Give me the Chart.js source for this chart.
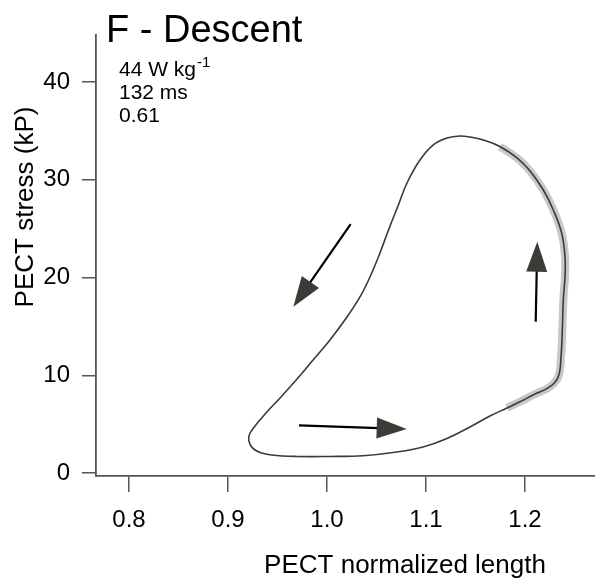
<!DOCTYPE html>
<html><head><meta charset="utf-8">
<script src="https://cdn.jsdelivr.net/npm/chart.js@4.4.0/dist/chart.umd.min.js"></script>
<style>html,body{margin:0;padding:0;background:#fff}#wrap{width:595px;height:580px;position:relative}</style>
</head><body><div id="wrap"><canvas id="c" width="595" height="580"></canvas></div>
<script>
// Work loop (closed curve; left side -> bottom -> right side up -> top leftwards -> left side down)
const loopX = [1.0030,0.9859,0.9697,0.9535,0.9384,0.9273,0.9212,0.9232,0.9313,0.9444,0.9697,1.0030,1.0364,1.0707,1.0970,1.1212,1.1444,1.1646,1.1818,1.1949,1.2081,1.2253,1.2336,1.2364,1.2377,1.2387,1.2404,1.2404,1.2371,1.2286,1.2185,1.2051,1.1919,1.1747,1.1596,1.1444,1.1343,1.1212,1.1071,1.0939,1.0808,1.0713,1.0621,1.0535,1.0434,1.0333,1.0202];
const loopY = [13.61,11.56,9.62,7.78,6.14,4.81,3.79,2.76,2.15,1.84,1.69,1.69,1.77,2.15,2.66,3.53,4.71,5.83,6.65,7.29,7.98,8.83,9.85,11.90,14.63,17.70,20.08,22.13,24.52,26.91,28.95,30.90,32.23,33.40,34.02,34.37,34.48,34.27,33.55,32.02,29.67,27.21,24.86,22.51,20.05,18.01,15.96];
// highlighted (active) portion: indices into the loop
const highlightFrom = 18;
const highlightTo = 33;
// direction arrows (start -> tip)
const arrowStartX = [1.0239, 0.9717, 1.2108];
const arrowStartY = [25.47, 4.88, 15.48];
const arrowTipX = [0.9660, 1.0805, 1.2124];
const arrowTipY = [17.01, 4.50, 23.66];
// axes
const xTicks = [0.8, 0.9, 1.0, 1.1, 1.2];
const yTicks = [0, 10, 20, 30, 40];
const titleText = 'F - Descent';
const infoLines = ['44 W kg', '132 ms', '0.61'];
const xTitle = 'PECT normalized length';
const yTitle = 'PECT stress (kP)';

const FONT = '"Liberation Sans", Arial, Helvetica, sans-serif';
const AXIS = '#555555';

const pts = loopX.map((x, i) => ({x, y: loopY[i]}));
const n = pts.length;
// close the loop smoothly: wrap one point on each side
const loopData = [pts[n - 1], ...pts, pts[0], pts[1]];
const hiData = pts.slice(highlightFrom, highlightTo + 1);

const arrowPlugin = {
  id: 'arrows',
  afterDatasetsDraw(chart) {
    const {ctx, scales: {x, y}} = chart;
    ctx.save();
    for (let i = 0; i < arrowStartX.length; i++) {
      const x0 = x.getPixelForValue(arrowStartX[i]);
      const y0 = y.getPixelForValue(arrowStartY[i]);
      const x1 = x.getPixelForValue(arrowTipX[i]);
      const y1 = y.getPixelForValue(arrowTipY[i]);
      const ang = Math.atan2(y1 - y0, x1 - x0);
      const L = 30, W = 10.5;
      const bx = x1 - L * Math.cos(ang), by = y1 - L * Math.sin(ang);
      ctx.strokeStyle = '#000';
      ctx.lineWidth = 2.2;
      ctx.beginPath(); ctx.moveTo(x0, y0); ctx.lineTo(bx + 2*Math.cos(ang), by + 2*Math.sin(ang)); ctx.stroke();
      ctx.fillStyle = '#3c3c37';
      ctx.beginPath();
      ctx.moveTo(x1, y1);
      ctx.lineTo(bx + W * Math.sin(ang), by - W * Math.cos(ang));
      ctx.lineTo(bx - W * Math.sin(ang), by + W * Math.cos(ang));
      ctx.closePath(); ctx.fill();
    }
    ctx.restore();
  }
};

const textPlugin = {
  id: 'texts',
  afterDraw(chart) {
    const ctx = chart.ctx;
    ctx.save();
    ctx.fillStyle = '#000';
    ctx.textAlign = 'left';
    ctx.textBaseline = 'alphabetic';
    ctx.font = '38px ' + FONT;
    ctx.fillText(titleText, 106, 42);
    ctx.font = '21px ' + FONT;
    const base = [76, 99, 122];
    infoLines.forEach((t, i) => ctx.fillText(t, 119, base[i]));
    const w = ctx.measureText(infoLines[0]).width;
    ctx.font = '15px ' + FONT;
    ctx.fillText('-1', 119 + w + 1, 67);
    ctx.font = '26px ' + FONT;
    ctx.textAlign = 'center';
    ctx.fillText(xTitle, 405, 573);
    ctx.translate(33, 207);
    ctx.rotate(-Math.PI / 2);
    ctx.fillText(yTitle, 0, 0);
    ctx.restore();
  }
};

new Chart(document.getElementById('c'), {
  type: 'scatter',
  data: {
    datasets: [
      {data: loopData, showLine: true, borderColor: '#3a3a3a', borderWidth: 1.6, pointRadius: 0, tension: 0.4, fill: false, order: 1},
      {data: hiData, showLine: true, borderColor: '#c8c8c8', borderWidth: 8, pointRadius: 0, tension: 0.4, fill: false, order: 2, borderCapStyle: 'butt'}
    ]
  },
  options: {
    responsive: false,
    animation: false,
    devicePixelRatio: 1,
    layout: {padding: {top: 35, right: 0, left: 0, bottom: 0}},
    plugins: {legend: {display: false}, tooltip: {enabled: false}, title: {display: false}},
    scales: {
      x: {
        type: 'linear', min: 0.76667, max: 1.2707,
        afterBuildTicks: s => { s.ticks = xTicks.map(v => ({value: v})); },
        afterFit: s => { s.height = 104; },
        grid: {display: true, drawOnChartArea: false, drawTicks: true, tickLength: 16, color: AXIS, lineWidth: 1.5},
        border: {display: true, color: AXIS, width: 1.8},
        ticks: {color: '#000', font: {family: FONT, size: 24}, padding: 14, maxRotation: 0, callback: v => Number(v).toFixed(1)}
      },
      y: {
        type: 'linear', min: -0.307, max: 44.81,
        afterBuildTicks: s => { s.ticks = yTicks.map(v => ({value: v})); },
        afterFit: s => { s.width = 96; },
        grid: {display: true, drawOnChartArea: false, drawTicks: true, tickLength: 14, color: AXIS, lineWidth: 1.5},
        border: {display: true, color: AXIS, width: 1.8},
        ticks: {color: '#000', font: {family: FONT, size: 24}, padding: 12, callback: v => String(v)}
      }
    }
  },
  plugins: [arrowPlugin, textPlugin]
});
</script>
</body></html>
